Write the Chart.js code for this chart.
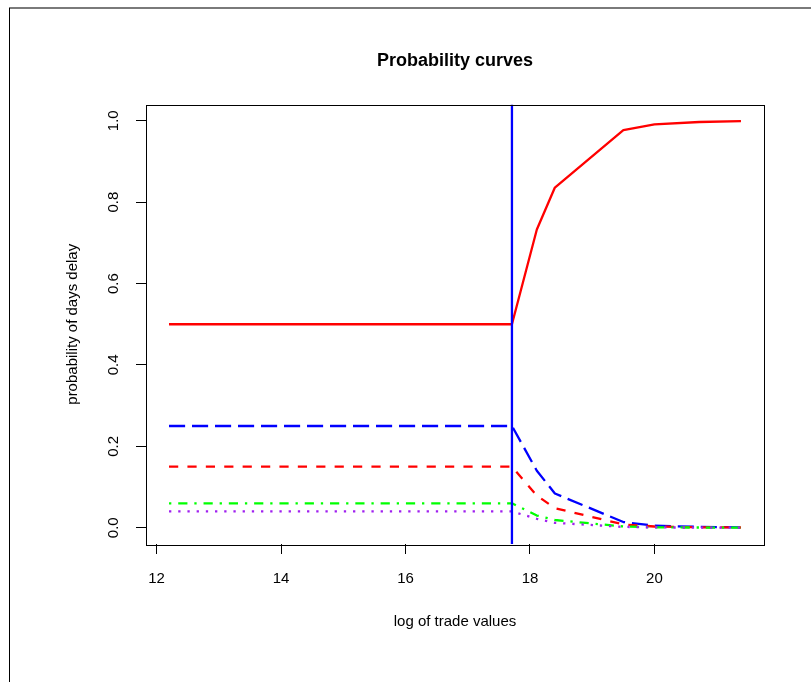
<!DOCTYPE html>
<html>
<head>
<meta charset="utf-8">
<script src="https://cdn.jsdelivr.net/npm/chart.js@4.4.0/dist/chart.umd.min.js"></script>
<style>
  body { margin: 0; background: #fff; }
  canvas { display: block; }
</style>
</head>
<body>
<canvas id="grafico" width="811" height="682"></canvas>
<script>
// valores
const logTrade = [12.2, 17.71, 18.11, 18.40, 19.50, 20.00, 20.72, 21.39];
const pDelay0 = [0.5, 0.5, 0.733, 0.836, 0.977, 0.991, 0.997, 0.999];
const pDelay1 = [0.25, 0.25, 0.14, 0.084, 0.014, 0.005, 0.002, 0.001];
const pDelay2 = [0.15, 0.15, 0.079, 0.048, 0.008, 0.003, 0.001, 0.0005];
const pDelay3 = [0.06, 0.06, 0.03, 0.019, 0.003, 0.001, 0.0005, 0.0002];
const pDelay4 = [0.04, 0.04, 0.022, 0.012, 0.002, 0.0008, 0.0003, 0.0001];
const umbral = 17.71;
const xTicks = [12, 14, 16, 18, 20];
const yTicks = [0, 0.2, 0.4, 0.6, 0.8, 1.0];
const xMin = 11.83, xMax = 21.76;
const yMin = -0.04, yMax = 1.04;

const fuente = "'Liberation Sans', Arial, Helvetica, sans-serif";

function puntos(ys) {
    return logTrade.map((x, i) => ({ x: x, y: ys[i] }));
}

function serie(label, ys, color, dash, orden) {
    return {
        label: label,
        data: puntos(ys),
        borderColor: color,
        backgroundColor: color,
        borderWidth: 2.3,
        borderDash: dash,
        borderCapStyle: 'butt',
        borderJoinStyle: 'round',
        pointRadius: 0,
        tension: 0,
        fill: false,
        order: orden
    };
}

// marco del grafico y borde exterior
const marco = {
    id: 'marco',
    beforeDraw(chart) {
        const ctx = chart.ctx;
        ctx.save();
        ctx.fillStyle = '#fff';
        ctx.fillRect(0, 0, chart.width, chart.height);
        ctx.fillStyle = '#7a7a7a';
        ctx.fillRect(9, 7, chart.width - 9, 2);
        ctx.fillStyle = '#000';
        ctx.fillRect(9, 8, 1, chart.height - 8);
        ctx.restore();
    },
    afterDraw(chart) {
        const a = chart.chartArea;
        const ctx = chart.ctx;
        ctx.save();
        ctx.strokeStyle = '#000';
        ctx.lineWidth = 1;
        ctx.strokeRect(Math.round(a.left) + 0.5, Math.round(a.top) + 0.5,
            Math.round(a.right - a.left), Math.round(a.bottom - a.top));
        ctx.restore();
    }
};

const ctx = document.getElementById('grafico').getContext('2d');
const chart = new Chart(ctx, {
    type: 'line',
    data: {
        datasets: [
            serie('p0', pDelay0, '#ff0000', [], 5),
            serie('p1', pDelay1, '#0000ff', [16.1, 6.9], 4),
            serie('p2', pDelay2, '#ff0000', [9.2, 9.2], 3),
            serie('p3', pDelay3, '#00ff00', [2.3, 6.9, 9.2, 6.9], 2),
            serie('p4', pDelay4, '#a020f0', [2.3, 6.9], 1),
            {
                label: 'umbral',
                data: [{ x: umbral, y: yMin }, { x: umbral, y: yMax }],
                borderColor: '#0000ff',
                borderWidth: 2.3,
                pointRadius: 0,
                fill: false,
                order: 0
            }
        ]
    },
    options: {
        responsive: false,
        animation: false,
        layout: { padding: { left: 0, top: 0, right: 47, bottom: 0 } },
        plugins: {
            legend: { display: false },
            tooltip: { enabled: false },
            title: {
                display: true,
                text: 'Probability curves',
                fullSize: false,
                color: '#000',
                font: { family: fuente, size: 18, weight: 'bold' },
                padding: { top: 49.8, bottom: 33.1 }
            }
        },
        scales: {
            x: {
                type: 'linear',
                min: xMin,
                max: xMax,
                afterBuildTicks: s => { s.ticks = xTicks.map(v => ({ value: v })); },
                afterFit: s => { s.height = 138; },
                grid: { drawOnChartArea: false, drawTicks: true, tickLength: 10, color: '#000' },
                border: { display: false },
                ticks: {
                    color: '#000',
                    font: { family: fuente, size: 15 },
                    padding: 16,
                    maxRotation: 0,
                    callback: v => String(v)
                },
                title: {
                    display: true,
                    text: 'log of trade values',
                    color: '#000',
                    font: { family: fuente, size: 15 },
                    padding: { top: 0, bottom: 51 }
                }
            },
            y: {
                type: 'linear',
                min: yMin,
                max: yMax,
                afterBuildTicks: s => { s.ticks = yTicks.map(v => ({ value: v })); },
                afterFit: s => { s.width = 146; },
                grid: { drawOnChartArea: false, drawTicks: true, tickLength: 10, color: '#000' },
                border: { display: false },
                ticks: {
                    color: '#000',
                    font: { family: fuente, size: 15 },
                    padding: 12,
                    minRotation: 90,
                    maxRotation: 90,
                    crossAlign: 'center',
                    callback: v => v.toFixed(1)
                },
                title: {
                    display: true,
                    text: 'probability of days delay',
                    color: '#000',
                    font: { family: fuente, size: 15 },
                    padding: { top: 64, bottom: 0 }
                }
            }
        }
    },
    plugins: [marco]
});
</script>
</body>
</html>
